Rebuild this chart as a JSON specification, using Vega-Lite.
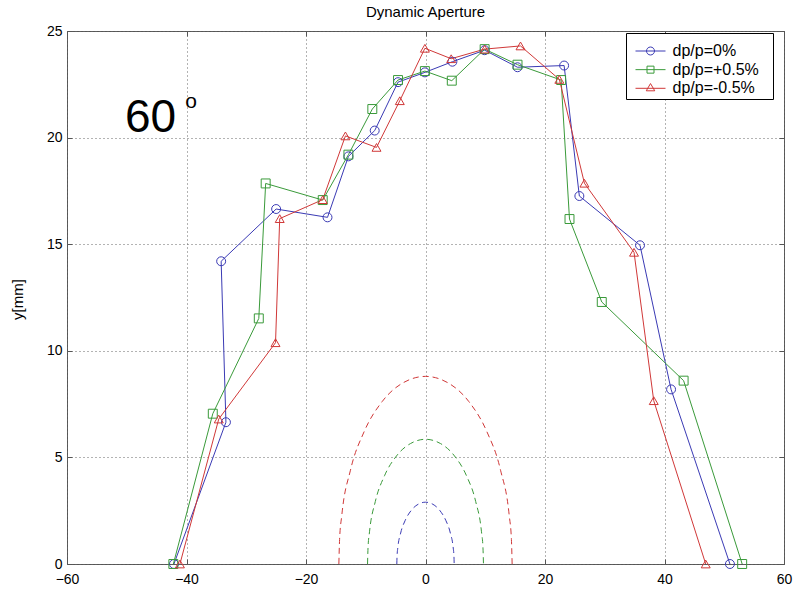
{
  "$schema": "https://vega.github.io/schema/vega-lite/v6.json",
  "width": 717,
  "height": 533,
  "autosize": {"type": "none"},
  "padding": {"left": 67, "top": 31, "right": 10, "bottom": 42},
  "background": "white",
  "config": {
    "font": "Liberation Sans",
    "view": {"stroke": "#555", "strokeWidth": 1},
    "axis": {"labelFont": "Liberation Sans", "labelFontSize": 14, "labelColor": "black", "titleFont": "Liberation Sans", "titleFontSize": 15, "titleFontWeight": "normal", "titleColor": "black", "domain": false, "tickColor": "#555", "tickSize": -5, "gridColor": "#666", "gridDash": [1, 3], "gridOpacity": 1, "gridWidth": 1}
  },
  "datasets": {
    "series": [
      {"s": "dp/p=0%", "i": 1, "x": -42.1, "y": 0},
      {"s": "dp/p=0%", "i": 2, "x": -33.4, "y": 6.65},
      {"s": "dp/p=0%", "i": 3, "x": -34.2, "y": 14.2},
      {"s": "dp/p=0%", "i": 4, "x": -25.0, "y": 16.65},
      {"s": "dp/p=0%", "i": 5, "x": -16.4, "y": 16.26},
      {"s": "dp/p=0%", "i": 6, "x": -12.9, "y": 19.12},
      {"s": "dp/p=0%", "i": 7, "x": -8.5, "y": 20.33},
      {"s": "dp/p=0%", "i": 8, "x": -4.6, "y": 22.6},
      {"s": "dp/p=0%", "i": 9, "x": -0.1, "y": 23.06},
      {"s": "dp/p=0%", "i": 10, "x": 4.5, "y": 23.56},
      {"s": "dp/p=0%", "i": 11, "x": 9.9, "y": 24.1},
      {"s": "dp/p=0%", "i": 12, "x": 15.4, "y": 23.3},
      {"s": "dp/p=0%", "i": 13, "x": 23.2, "y": 23.38},
      {"s": "dp/p=0%", "i": 14, "x": 25.75, "y": 17.26},
      {"s": "dp/p=0%", "i": 15, "x": 35.9, "y": 14.95},
      {"s": "dp/p=0%", "i": 16, "x": 41.1, "y": 8.19},
      {"s": "dp/p=0%", "i": 17, "x": 50.95, "y": 0},
      {"s": "dp/p=+0.5%", "i": 1, "x": -42.2, "y": 0},
      {"s": "dp/p=+0.5%", "i": 2, "x": -35.6, "y": 7.05},
      {"s": "dp/p=+0.5%", "i": 3, "x": -27.9, "y": 11.52},
      {"s": "dp/p=+0.5%", "i": 4, "x": -26.75, "y": 17.85},
      {"s": "dp/p=+0.5%", "i": 5, "x": -17.2, "y": 17.07},
      {"s": "dp/p=+0.5%", "i": 6, "x": -12.9, "y": 19.2},
      {"s": "dp/p=+0.5%", "i": 7, "x": -8.9, "y": 21.34},
      {"s": "dp/p=+0.5%", "i": 8, "x": -4.6, "y": 22.7},
      {"s": "dp/p=+0.5%", "i": 9, "x": -0.1, "y": 23.12},
      {"s": "dp/p=+0.5%", "i": 10, "x": 4.4, "y": 22.67},
      {"s": "dp/p=+0.5%", "i": 11, "x": 9.9, "y": 24.15},
      {"s": "dp/p=+0.5%", "i": 12, "x": 15.4, "y": 23.42},
      {"s": "dp/p=+0.5%", "i": 13, "x": 22.7, "y": 22.7},
      {"s": "dp/p=+0.5%", "i": 14, "x": 24.1, "y": 16.18},
      {"s": "dp/p=+0.5%", "i": 15, "x": 29.5, "y": 12.29},
      {"s": "dp/p=+0.5%", "i": 16, "x": 43.2, "y": 8.6},
      {"s": "dp/p=+0.5%", "i": 17, "x": 53.0, "y": 0},
      {"s": "dp/p=-0.5%", "i": 1, "x": -41.1, "y": 0},
      {"s": "dp/p=-0.5%", "i": 2, "x": -34.6, "y": 6.8},
      {"s": "dp/p=-0.5%", "i": 3, "x": -25.1, "y": 10.38},
      {"s": "dp/p=-0.5%", "i": 4, "x": -24.4, "y": 16.2},
      {"s": "dp/p=-0.5%", "i": 5, "x": -17.2, "y": 17.09},
      {"s": "dp/p=-0.5%", "i": 6, "x": -13.4, "y": 20.08},
      {"s": "dp/p=-0.5%", "i": 7, "x": -8.2, "y": 19.54},
      {"s": "dp/p=-0.5%", "i": 8, "x": -4.3, "y": 21.73},
      {"s": "dp/p=-0.5%", "i": 9, "x": -0.1, "y": 24.19},
      {"s": "dp/p=-0.5%", "i": 10, "x": 4.3, "y": 23.7},
      {"s": "dp/p=-0.5%", "i": 11, "x": 9.9, "y": 24.15},
      {"s": "dp/p=-0.5%", "i": 12, "x": 15.9, "y": 24.3},
      {"s": "dp/p=-0.5%", "i": 13, "x": 22.4, "y": 22.73},
      {"s": "dp/p=-0.5%", "i": 14, "x": 26.6, "y": 17.86},
      {"s": "dp/p=-0.5%", "i": 15, "x": 34.9, "y": 14.62},
      {"s": "dp/p=-0.5%", "i": 16, "x": 38.2, "y": 7.66},
      {"s": "dp/p=-0.5%", "i": 17, "x": 46.9, "y": 0}
    ],
    "ellipses": [
      {"s": "dp/p=0%", "x": -4.8, "y": 0}, {"s": "dp/p=0%", "x": -4.76, "y": 0.38}, {"s": "dp/p=0%", "x": -4.64, "y": 0.75}, {"s": "dp/p=0%", "x": -4.16, "y": 1.45}, {"s": "dp/p=0%", "x": -3.39, "y": 2.05}, {"s": "dp/p=0%", "x": -2.4, "y": 2.51}, {"s": "dp/p=0%", "x": -1.24, "y": 2.8}, {"s": "dp/p=0%", "x": 0, "y": 2.9}, {"s": "dp/p=0%", "x": 1.24, "y": 2.8}, {"s": "dp/p=0%", "x": 2.4, "y": 2.51}, {"s": "dp/p=0%", "x": 3.39, "y": 2.05}, {"s": "dp/p=0%", "x": 4.16, "y": 1.45}, {"s": "dp/p=0%", "x": 4.64, "y": 0.75}, {"s": "dp/p=0%", "x": 4.76, "y": 0.38}, {"s": "dp/p=0%", "x": 4.8, "y": 0},
      {"s": "dp/p=+0.5%", "x": -9.7, "y": 0}, {"s": "dp/p=+0.5%", "x": -9.62, "y": 0.76}, {"s": "dp/p=+0.5%", "x": -9.37, "y": 1.51}, {"s": "dp/p=+0.5%", "x": -8.4, "y": 2.93}, {"s": "dp/p=+0.5%", "x": -6.86, "y": 4.14}, {"s": "dp/p=+0.5%", "x": -4.85, "y": 5.07}, {"s": "dp/p=+0.5%", "x": -2.51, "y": 5.65}, {"s": "dp/p=+0.5%", "x": 0, "y": 5.85}, {"s": "dp/p=+0.5%", "x": 2.51, "y": 5.65}, {"s": "dp/p=+0.5%", "x": 4.85, "y": 5.07}, {"s": "dp/p=+0.5%", "x": 6.86, "y": 4.14}, {"s": "dp/p=+0.5%", "x": 8.4, "y": 2.93}, {"s": "dp/p=+0.5%", "x": 9.37, "y": 1.51}, {"s": "dp/p=+0.5%", "x": 9.62, "y": 0.76}, {"s": "dp/p=+0.5%", "x": 9.7, "y": 0},
      {"s": "dp/p=-0.5%", "x": -14.5, "y": 0}, {"s": "dp/p=-0.5%", "x": -14.38, "y": 1.15}, {"s": "dp/p=-0.5%", "x": -14.01, "y": 2.28}, {"s": "dp/p=-0.5%", "x": -12.56, "y": 4.4}, {"s": "dp/p=-0.5%", "x": -10.25, "y": 6.22}, {"s": "dp/p=-0.5%", "x": -7.25, "y": 7.62}, {"s": "dp/p=-0.5%", "x": -3.75, "y": 8.5}, {"s": "dp/p=-0.5%", "x": 0, "y": 8.8}, {"s": "dp/p=-0.5%", "x": 3.75, "y": 8.5}, {"s": "dp/p=-0.5%", "x": 7.25, "y": 7.62}, {"s": "dp/p=-0.5%", "x": 10.25, "y": 6.22}, {"s": "dp/p=-0.5%", "x": 12.56, "y": 4.4}, {"s": "dp/p=-0.5%", "x": 14.01, "y": 2.28}, {"s": "dp/p=-0.5%", "x": 14.38, "y": 1.15}, {"s": "dp/p=-0.5%", "x": 14.5, "y": 0}
    ],
    "labels": [
      {"t": "Dynamic Aperture"}
    ]
  },
  "layer": [
    {
      "data": {"name": "ellipses"},
      "mark": {"type": "line", "strokeWidth": 1, "strokeDash": [6, 4], "interpolate": "monotone"},
      "encoding": {
        "x": {"field": "x", "type": "quantitative", "scale": {"domain": [-60, 60], "nice": false}, "axis": null},
        "y": {"field": "y", "type": "quantitative", "scale": {"domain": [0, 25], "nice": false}, "axis": null},
        "color": {"field": "s", "type": "nominal", "scale": {"domain": ["dp/p=0%", "dp/p=+0.5%", "dp/p=-0.5%"], "range": ["#3a3ab4", "#3a9a3a", "#d03838"]}, "legend": null},
        "order": {"field": "x", "type": "quantitative"}
      }
    },
    {
      "data": {"name": "series"},
      "mark": {"type": "line", "strokeWidth": 1},
      "encoding": {
        "x": {"field": "x", "type": "quantitative", "scale": {"domain": [-60, 60], "nice": false}, "title": "x[mm]",
          "axis": {"values": [-60, -40, -20, 0, 20, 40, 60], "grid": true, "labelPadding": 13, "labelFlush": false, "titleX": 358.5, "titleY": 582, "titleBaseline": "alphabetic"}},
        "y": {"field": "y", "type": "quantitative", "scale": {"domain": [0, 25], "nice": false}, "title": "y[mm]",
          "axis": {"values": [0, 5, 10, 15, 20, 25], "grid": true, "labelPadding": 10, "labelFlush": false, "titleX": -49.5, "titleY": 268, "titleBaseline": "middle"}},
        "color": {"field": "s", "type": "nominal", "scale": {"domain": ["dp/p=0%", "dp/p=+0.5%", "dp/p=-0.5%"], "range": ["#3a3ab4", "#3a9a3a", "#d03838"]}, "legend": null},
        "order": {"field": "i", "type": "quantitative"}
      }
    },
    {
      "data": {"name": "series"},
      "mark": {"type": "point", "filled": false, "strokeWidth": 1, "size": 80, "opacity": 1},
      "encoding": {
        "x": {"field": "x", "type": "quantitative", "scale": {"domain": [-60, 60], "nice": false}, "axis": null},
        "y": {"field": "y", "type": "quantitative", "scale": {"domain": [0, 25], "nice": false}, "axis": null},
        "color": {"field": "s", "type": "nominal", "scale": {"domain": ["dp/p=0%", "dp/p=+0.5%", "dp/p=-0.5%"], "range": ["#3a3ab4", "#3a9a3a", "#d03838"]}, "legend": null},
        "shape": {"field": "s", "type": "nominal", "scale": {"domain": ["dp/p=0%", "dp/p=+0.5%", "dp/p=-0.5%"], "range": ["circle", "square", "triangle-up"]}, "legend": null}
      }
    },
    {
      "data": {"name": "series"},
      "mark": {"type": "point", "filled": false, "strokeWidth": 1, "size": 0, "opacity": 1},
      "encoding": {
        "x": {"field": "x", "type": "quantitative", "scale": {"domain": [-60, 60], "nice": false},
          "axis": {"orient": "top", "values": [-60, -40, -20, 0, 20, 40, 60], "labels": false, "grid": false, "title": null}},
        "y": {"field": "y", "type": "quantitative", "scale": {"domain": [0, 25], "nice": false},
          "axis": {"orient": "right", "values": [0, 5, 10, 15, 20, 25], "labels": false, "grid": false, "title": null}},
        "color": {"field": "s", "type": "nominal", "scale": {"domain": ["dp/p=0%", "dp/p=+0.5%", "dp/p=-0.5%"], "range": ["#3a3ab4", "#3a9a3a", "#d03838"]},
          "legend": {"title": " ", "titleFontSize": 6, "titlePadding": 2, "orient": "none", "legendX": 559, "legendY": 2, "padding": 2, "symbolSize": 100, "symbolStrokeWidth": 1, "symbolOffset": 14.5, "labelOffset": 14, "labelFont": "Liberation Sans", "labelFontSize": 16, "labelColor": "black", "rowPadding": 2.65, "strokeColor": "black", "fillColor": "white", "labelExpr": "datum.label + '\u2800'", "symbolFillColor": "transparent"}},
        "shape": {"field": "s", "type": "nominal", "scale": {"domain": ["dp/p=0%", "dp/p=+0.5%", "dp/p=-0.5%"], "range": ["M-3,0H3M-0.8,0A0.8,0.8 0 1,0 0.8,0A0.8,0.8 0 1,0 -0.8,0", "M-3,0H3M-0.7,-0.7H0.7V0.7H-0.7Z", "M-3,0H3M-0.85,0.5L0,-0.95L0.85,0.5Z"]},
          "legend": {"title": " ", "titleFontSize": 6, "titlePadding": 2, "orient": "none", "legendX": 559, "legendY": 2, "padding": 2, "symbolSize": 100, "symbolStrokeWidth": 1, "symbolOffset": 14.5, "labelOffset": 14, "labelFont": "Liberation Sans", "labelFontSize": 16, "labelColor": "black", "rowPadding": 2.65, "strokeColor": "black", "fillColor": "white", "labelExpr": "datum.label + '\u2800'", "symbolFillColor": "transparent"}}
      }
    },
    {
      "data": {"name": "labels"},
      "mark": {"type": "text", "fontSize": 15, "font": "Liberation Sans", "align": "center", "baseline": "alphabetic", "color": "black"},
      "encoding": {
        "text": {"field": "t"},
        "x": {"datum": 0, "type": "quantitative", "scale": {"domain": [-60, 60], "nice": false}, "axis": null},
        "y": {"datum": 25.657, "type": "quantitative", "scale": {"domain": [0, 25], "nice": false}, "axis": null}
      }
    },
    {
      "data": {"values": [{"t": "60"}]},
      "mark": {"type": "text", "fontSize": 46, "font": "Liberation Sans", "align": "left", "baseline": "alphabetic", "color": "black"},
      "encoding": {
        "text": {"field": "t"},
        "x": {"datum": -50.3, "type": "quantitative", "scale": {"domain": [-60, 60], "nice": false}, "axis": null},
        "y": {"datum": 20.26, "type": "quantitative", "scale": {"domain": [0, 25], "nice": false}, "axis": null}
      }
    },
    {
      "data": {"values": [{"t": "o"}]},
      "mark": {"type": "text", "fontSize": 21, "font": "Liberation Sans", "align": "left", "baseline": "alphabetic", "color": "black"},
      "encoding": {
        "text": {"field": "t"},
        "x": {"datum": -40.2, "type": "quantitative", "scale": {"domain": [-60, 60], "nice": false}, "axis": null},
        "y": {"datum": 21.39, "type": "quantitative", "scale": {"domain": [0, 25], "nice": false}, "axis": null}
      }
    }
  ],
  "resolve": {"scale": {"color": "independent", "shape": "independent"}, "axis": {"x": "independent", "y": "independent"}}
}
